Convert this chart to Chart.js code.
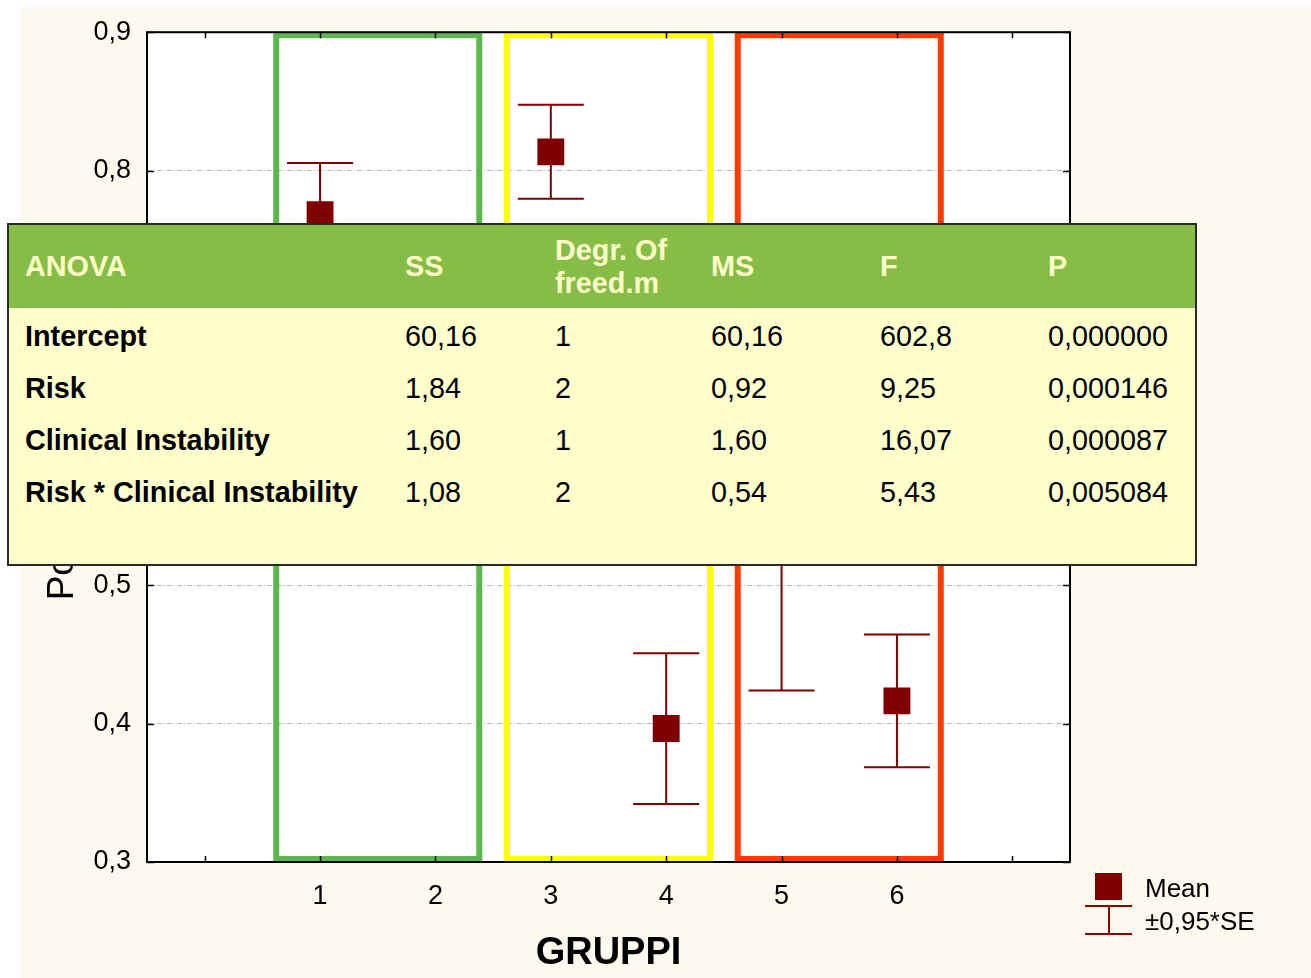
<!DOCTYPE html>
<html>
<head>
<meta charset="utf-8">
<script src="https://cdn.jsdelivr.net/npm/chart.js"></script>
<style>
  body { margin: 0; background: #fff; font-family: "Liberation Sans", Arial, sans-serif; }
  #wrap { position: relative; width: 1311px; height: 978px; overflow: hidden; }
  #cream { position: absolute; left: 20px; top: 7px; right: 0; bottom: 0; background: #fef9ee; }
  #chart { position: absolute; left: 0; top: 0; }
  #anova { position: absolute; left: 7px; top: 223px; width: 1186px; height: 339px;
           border: 2px solid #2a2a2a; background: #ffffcc; }
  #anova table { border-collapse: collapse; table-layout: fixed; width: 1186px; font-size: 28.8px; }
  #anova th { height: 83px; background: #86bd47; color: #ffffc8; text-align: left;
              font-weight: bold; padding: 0; line-height: 33px; vertical-align: middle; }
  #anova td { height: 52px; padding: 0; line-height: 33px; color: #000; }
  #anova tr.first td { padding-top: 2px; }
  #anova td.name { font-weight: bold; }
  #anova .c0 { padding-left: 16px; }
  #legend { position: absolute; left: 1085px; top: 870px; font-size: 26px; color: #000; }
  .lg-row { position: absolute; left: 60px; white-space: nowrap; line-height: 30px; }
  .sq { position: absolute; left: 10px; top: 3px; width: 27px; height: 27px; background: #800000; }
  .wh { position: absolute; left: 0; width: 47px; height: 2px; background: #8b0000; }
  .wv { position: absolute; left: 23px; width: 2px; background: #8b0000; }
</style>
</head>
<body>
<div id="wrap">
  <div id="cream"></div>
  <canvas id="chart" width="1311" height="978"></canvas>
  <div id="anova"></div>
  <div id="legend">
    <div class="sq"></div>
    <div class="lg-row" style="top:3px">Mean</div>
    <div class="wh" style="top:35px"></div>
    <div class="wv" style="top:35px;height:28px"></div>
    <div class="wh" style="top:63px"></div>
    <div class="lg-row" style="top:36px">±0,95*SE</div>
  </div>
</div>
<script>
// groups on the x axis and their means with ±0,95*SE half-widths
var groups = [1, 2, 3, 4, 5, 6]
var means = [0.768, 0.640, 0.8135, 0.3965, 0.535, 0.4165]
var errs = [0.0375, 0.040, 0.034, 0.0545, 0.111, 0.048]

// x tick labels for values 0..7, y tick labels for 0.3..0.9
var xTickLabels = ['', '1', '2', '3', '4', '5', '6', '']
var yTickLabels = ['0,3', '0,4', '0,5', '0,6', '0,7', '0,8', '0,9']

// coloured frames around pairs of groups (x ranges)
var frameStart = [0.62, 2.62, 4.62]
var frameEnd = [2.38, 4.38, 6.38]
var frameColors = ['#5cb84c', '#ffff00', '#ff3c00']

// ANOVA table
var anovaHeader = ['ANOVA', 'SS', 'Degr. Of<br>freed.m', 'MS', 'F', 'P']
var anovaNames = ['Intercept', 'Risk', 'Clinical Instability', 'Risk * Clinical Instability']
var anovaSS = ['60,16', '1,84', '1,60', '1,08']
var anovaDf = ['1', '2', '1', '2']
var anovaMS = ['60,16', '0,92', '1,60', '0,54']
var anovaF = ['602,8', '9,25', '16,07', '5,43']
var anovaP = ['0,000000', '0,000146', '0,000087', '0,005084']

var colW = [396, 150, 156, 169, 168, 147]
var html = '<table><colgroup>' + colW.map(function (w) { return '<col style="width:' + w + 'px">' }).join('') + '</colgroup>'
html += '<tr>' + anovaHeader.map(function (h, i) { return '<th class="c' + i + '">' + h + '</th>' }).join('') + '</tr>'
anovaNames.forEach(function (n, i) {
  html += '<tr' + (i === 0 ? ' class="first"' : '') + '><td class="c0 name">' + n + '</td><td>' + anovaSS[i] + '</td><td>' + anovaDf[i] +
    '</td><td>' + anovaMS[i] + '</td><td>' + anovaF[i] + '</td><td>' + anovaP[i] + '</td></tr>'
})
html += '</table>'
document.getElementById('anova').innerHTML = html

var decor = {
  id: 'decor',
  beforeDraw: function (chart) {
    var ctx = chart.ctx, a = chart.chartArea
    ctx.save()
    ctx.fillStyle = '#fff'
    ctx.fillRect(a.left, a.top, a.right - a.left, a.bottom - a.top)
    ctx.restore()
  },
  beforeDatasetsDraw: function (chart) {
    var ctx = chart.ctx, a = chart.chartArea, x = chart.scales.x, y = chart.scales.y
    ctx.save()
    ctx.lineWidth = 6
    frameStart.forEach(function (s, i) {
      var x0 = x.getPixelForValue(s), x1 = x.getPixelForValue(frameEnd[i])
      ctx.strokeStyle = frameColors[i]
      ctx.strokeRect(x0, a.top + 3, x1 - x0, a.bottom - a.top - 6)
    })
    // error bars
    ctx.strokeStyle = '#800000'
    ctx.lineWidth = 2
    groups.forEach(function (g, i) {
      var px = x.getPixelForValue(g)
      var hi = y.getPixelForValue(means[i] + errs[i])
      var lo = y.getPixelForValue(means[i] - errs[i])
      ctx.beginPath()
      ctx.moveTo(px, hi); ctx.lineTo(px, lo)
      ctx.moveTo(px - 33, hi); ctx.lineTo(px + 33, hi)
      ctx.moveTo(px - 33, lo); ctx.lineTo(px + 33, lo)
      ctx.stroke()
    })
    ctx.restore()
  },
  afterDatasetsDraw: function (chart) {
    var ctx = chart.ctx, a = chart.chartArea, x = chart.scales.x, y = chart.scales.y
    ctx.save()
    ctx.strokeStyle = '#000'
    ctx.lineWidth = 2
    ctx.strokeRect(a.left, a.top, a.right - a.left, a.bottom - a.top)
    ctx.beginPath()
    x.ticks.forEach(function (t) {
      var px = Math.round(x.getPixelForValue(t.value)) + 0.5
      ctx.moveTo(px, a.bottom); ctx.lineTo(px, a.bottom - 6)
      ctx.moveTo(px, a.top); ctx.lineTo(px, a.top + 6)
    })
    y.ticks.forEach(function (t) {
      var py = Math.round(y.getPixelForValue(t.value)) + 0.5
      ctx.moveTo(a.left, py); ctx.lineTo(a.left + 7, py)
      ctx.moveTo(a.right, py); ctx.lineTo(a.right - 7, py)
    })
    ctx.lineWidth = 1.5
    ctx.stroke()
    ctx.restore()
  }
}

Chart.defaults.font.family = "'Liberation Sans', Arial, sans-serif"
Chart.defaults.color = '#000'

new Chart(document.getElementById('chart'), {
  type: 'scatter',
  data: {
    datasets: [{
      label: 'Mean',
      data: groups.map(function (g, i) { return { x: g, y: means[i] } }),
      pointStyle: 'rect',
      pointRadius: 19,
      pointHoverRadius: 19,
      backgroundColor: '#800000',
      borderColor: '#800000',
      borderWidth: 0
    }]
  },
  options: {
    responsive: false,
    animation: false,
    layout: { padding: { left: 0, top: 30, right: 241, bottom: 0 } },
    plugins: { legend: { display: false }, tooltip: { enabled: false } },
    scales: {
      x: {
        type: 'linear',
        min: -0.5,
        max: 7.5,
        afterFit: function (s) { s.height = 116 },
        afterBuildTicks: function (s) { s.ticks = xTickLabels.map(function (l, i) { return { value: i } }) },
        ticks: {
          autoSkip: false,
          padding: 18,
          font: { size: 27 },
          callback: function (v) { return xTickLabels[v] }
        },
        grid: { display: false, drawTicks: false },
        border: { display: false },
        title: { display: true, text: 'GRUPPI', font: { size: 38, weight: 'bold' }, padding: { top: 0, bottom: 2 } }
      },
      y: {
        min: 0.3,
        max: 0.9,
        afterFit: function (s) { s.width = 147 },
        afterBuildTicks: function (s) { s.ticks = yTickLabels.map(function (l, i) { return { value: 0.3 + i * 0.1 } }) },
        ticks: {
          padding: 16,
          font: { size: 27 },
          callback: function (v, i) { return yTickLabels[i] }
        },
        grid: {
          drawTicks: false,
          color: function (c) { return c.tick && c.tick.value > 0.31 && c.tick.value < 0.89 ? '#b8b8b8' : 'rgba(0,0,0,0)' },
          borderDash: [5, 2, 1, 2]
        },
        border: { display: false, dash: [5, 2, 1, 2] },
        title: { display: true, text: 'Positive Response', font: { size: 37 }, padding: { top: 41, bottom: 0 } }
      }
    }
  },
  plugins: [decor]
})
</script>
</body>
</html>
